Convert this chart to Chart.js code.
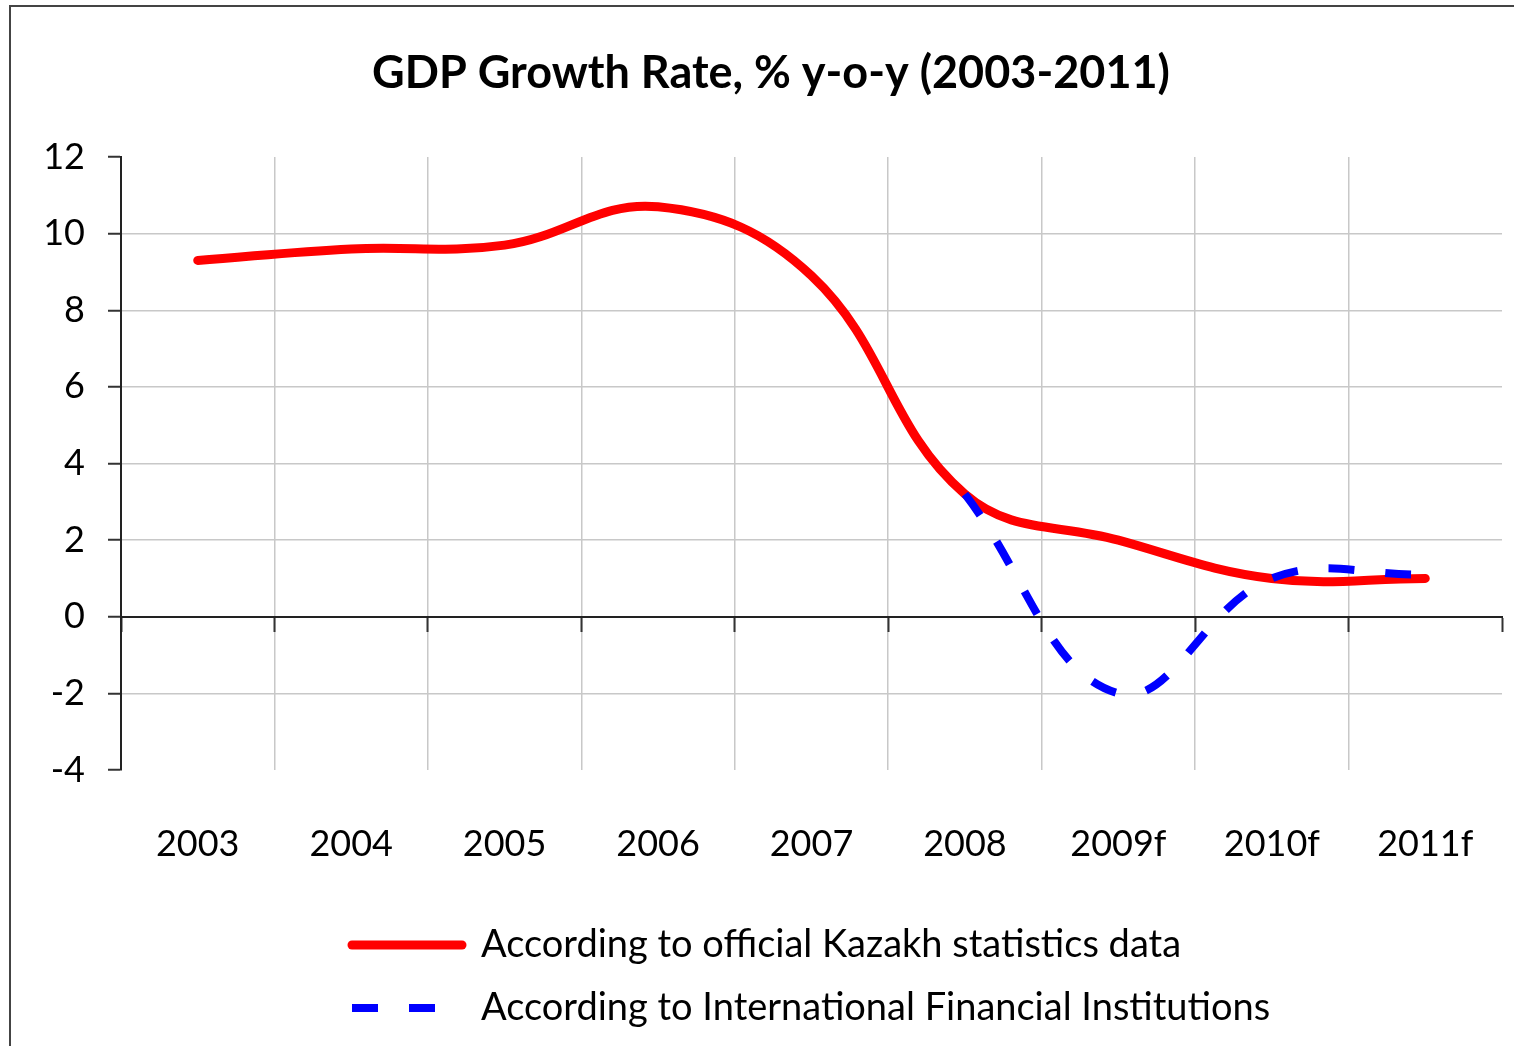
<!DOCTYPE html>
<html>
<head>
<meta charset="utf-8">
<title>GDP Growth Rate</title>
<script src="https://cdn.jsdelivr.net/npm/chart.js@4.4.1/dist/chart.umd.min.js"></script>
<style>
  html, body { margin: 0; padding: 0; background: #fff; overflow: hidden; }
  .frame {
    position: absolute; left: 9px; top: 5px; width: 1520px; height: 1060px;
    border-left: 2px solid #444; border-top: 2px solid #444;
  }
  #gdp-chart { position: absolute; left: 0; top: 0; }
</style>
</head>
<body>
<div class="frame"></div>
<canvas id="gdp-chart" width="1514" height="1046"></canvas>
<script>
// data
const years = ['2003', '2004', '2005', '2006', '2007', '2008', '2009f', '2010f', '2011f'];
const officialGrowth = [9.3, 9.6, 9.7, 10.7, 8.9, 3.2, 2.0, 1.0, 1.0];
const ifiGrowth = [null, null, null, null, null, 3.2, -2.0, 1.0, 1.1];
const yMin = -4, yMax = 12, yStep = 2;

const FONT = 'Lato, "Open Sans", sans-serif';

// move legend rows and title to where Excel put them
const boxShift = {
    id: 'boxShift',
    afterLayout(chart) {
        const lg = chart.legend;
        const dx = 352 - lg.options.labels.padding - lg.left;
        lg.left += dx;
        lg.right += dx;
        chart.titleBlock.left += 40;
    }
};

// legend samples keep the dataset's dash (point style would drop it)
function legendItems(chart) {
    const items = Chart.defaults.plugins.legend.labels.generateLabels(chart);
    items.forEach(item => {
        const ds = chart.data.datasets[item.datasetIndex];
        item.lineDash = ds.borderDash || [];
        item.lineWidth = ds.borderWidth;
        item.lineCap = ds.borderCapStyle || 'butt';
    });
    return items;
}

const ctx = document.getElementById('gdp-chart').getContext('2d');
new Chart(ctx, {
    type: 'line',
    data: {
        labels: years,
        datasets: [{
            label: 'According to official Kazakh statistics data',
            data: officialGrowth,
            borderColor: '#ff0000',
            backgroundColor: '#ff0000',
            borderWidth: 9,
            borderCapStyle: 'round',
            borderJoinStyle: 'round',
            tension: 0.4,
            pointRadius: 0,
            order: 2
        }, {
            label: 'According to International Financial Institutions',
            data: ifiGrowth,
            borderColor: '#0000ff',
            backgroundColor: '#0000ff',
            borderWidth: 8,
            borderDash: [26, 31],
            tension: 0.4,
            pointRadius: 0,
            order: 1
        }]
    },
    options: {
        responsive: false,
        animation: false,
        layout: { padding: { left: 0, right: 12, top: 0, bottom: 9 } },
        scales: {
            x: {
                type: 'category',
                offset: true,
                grid: {
                    offset: true,
                    tickLength: 53,
                    tickColor: 'rgba(0,0,0,0)',
                    lineWidth: 1.5,
                    color: c => c.type === 'tick' ? '#c8c8c8' : 'rgba(0,0,0,0)'
                },
                border: { display: false },
                ticks: {
                    color: '#000',
                    padding: 0,
                    maxRotation: 0,
                    autoSkip: false,
                    font: { family: FONT, size: 36 }
                },
                afterFit: s => { s.height = 131; }
            },
            x2: {
                type: 'category',
                position: { y: 0 },
                offset: true,
                grid: {
                    offset: true,
                    drawOnChartArea: false,
                    tickLength: 14,
                    tickColor: '#333',
                    tickWidth: 2,
                    color: '#333'
                },
                border: { color: '#222', width: 2 },
                ticks: { display: false }
            },
            y: {
                min: yMin,
                max: yMax,
                grid: {
                    tickLength: 13,
                    tickColor: '#333',
                    tickWidth: 2,
                    lineWidth: 1.5,
                    color: c => (c.tick && (c.tick.value === yMin || c.tick.value === yMax || c.tick.value === 0))
                        ? 'rgba(0,0,0,0)' : '#c8c8c8'
                },
                border: { color: '#222', width: 2 },
                ticks: {
                    stepSize: yStep,
                    color: '#000',
                    padding: 23,
                    font: { family: FONT, size: 36 }
                },
                afterFit: s => { s.width = 121; }
            }
        },
        plugins: {
            title: {
                display: true,
                text: 'GDP Growth Rate, % y-o-y (2003-2011)',
                color: '#000',
                font: { family: FONT, size: 45, weight: 'bold' },
                padding: { top: 46, bottom: 57 }
            },
            legend: {
                position: 'bottom',
                align: 'start',
                labels: {
                    usePointStyle: true,
                    pointStyle: 'line',
                    pointStyleWidth: 110,
                    padding: 25,
                    color: '#000',
                    font: { family: FONT, size: 38 },
                    generateLabels: legendItems,
                    sort: (a, b) => a.datasetIndex - b.datasetIndex
                }
            },
            tooltip: { enabled: false }
        }
    },
    plugins: [boxShift]
});
</script>
</body>
</html>
